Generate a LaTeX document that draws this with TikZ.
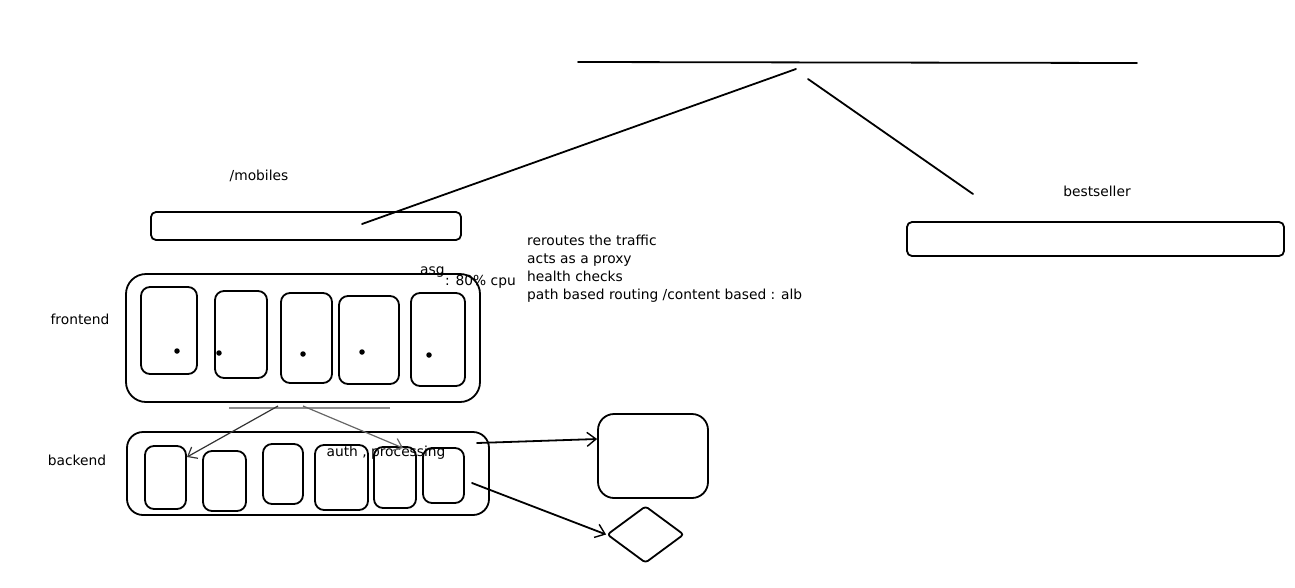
\documentclass[tikz,border=0pt]{standalone}
\usepackage{fontspec}
\setmainfont{DejaVu Sans}
\usetikzlibrary{arrows.meta,shapes.geometric}
\tikzset{
  stroke/.style={line width=1.8pt, line cap=round, line join=round},
  box/.style={stroke, draw, rounded corners=9pt, inner sep=0pt},
  bigbox/.style={stroke, draw, rounded corners=20pt, inner sep=0pt},
  bar/.style={stroke, draw, rounded corners=5pt, inner sep=0pt},
  lbl/.style={font=\fontsize{13.8}{16}\selectfont, inner sep=0pt},
  arr/.style={stroke, -{Straight Barb[length=9pt,width=14pt,line width=1.4pt]}},
  thin/.style={line width=1.2pt, draw=black!80},
  dotm/.style={circle, fill=black, inner sep=0pt, minimum size=5.5pt}
}
\begin{document}
\begin{tikzpicture}[x=1pt,y=-1pt]
\useasboundingbox (0,0) rectangle (1295,587);
% top load balancer line
\coordinate (t1) at (578,62);
\coordinate (t2) at (1137,63);
\draw[stroke] (t1) -- (t2);
\coordinate (ta) at (796,69);
\coordinate (tb) at (808,79);
\coordinate (mb) at (362,224);
\coordinate (bs) at (973,194);
\draw[stroke] (ta) -- (mb);
\draw[stroke] (tb) -- (bs);
% labels
\node[lbl] (lmob) at (259,176) {/mobiles};
\node[lbl] (lbest) at (1097,191) {bestseller};
\node[lbl] (lfront) at (80,319) {frontend};
\node[lbl] (lback) at (77,460) {backend};
% bars
\node[bar, minimum width=310pt, minimum height=28pt] (mobbar) at (306,226) {};
\node[bar, minimum width=377pt, minimum height=34pt] (bestbar) at (1095.5,239) {};
% text block
\node[lbl, anchor=base west] (n1) at (527,245) {reroutes the traffic};
\node[lbl, anchor=base west] (n2) at (527,263) {acts as a proxy};
\node[lbl, anchor=base west] (n3) at (527,281) {health checks};
\node[lbl, anchor=base west] (n4) at (527,299) {path based routing /content based : alb};
\node[lbl, anchor=base west] (asg) at (420,274) {asg};
\node[lbl, anchor=base west] (cpu) at (445,285) {: 80\% cpu};
% frontend
\node[bigbox, minimum width=354pt, minimum height=128pt] (front) at (303,338) {};
\node[box, minimum width=56pt, minimum height=87pt] (f1) at (169,330.5) {};
\node[box, minimum width=52pt, minimum height=87pt] (f2) at (241,334.5) {};
\node[box, minimum width=51pt, minimum height=90pt] (f3) at (306.5,338) {};
\node[box, minimum width=60pt, minimum height=88pt] (f4) at (369,340) {};
\node[box, minimum width=54pt, minimum height=93pt] (f5) at (438,339.5) {};
\node[dotm] (d1) at (177,351) {};
\node[dotm] (d2) at (219,353) {};
\node[dotm] (d3) at (303,354) {};
\node[dotm] (d4) at (362,352) {};
\node[dotm] (d5) at (429,355) {};
% gray line
\coordinate (g1) at (229,408);
\coordinate (g2) at (390,408);
\draw[line width=2.2pt, draw=black!45] (g1) -- (g2);
\coordinate (ga) at (278,406);
\coordinate (gb) at (303,406);
% backend
\node[bigbox, rounded corners=16pt, minimum width=362pt, minimum height=83pt] (back) at (308,473.5) {};
\node[box, minimum width=41pt, minimum height=63pt] (b1) at (165.5,477.5) {};
\node[box, minimum width=43pt, minimum height=60pt] (b2) at (224.5,481) {};
\node[box, minimum width=40pt, minimum height=60pt] (b3) at (283,474) {};
\node[box, minimum width=53pt, minimum height=65pt] (b4) at (341.5,477.5) {};
\node[box, minimum width=42pt, minimum height=61pt] (b5) at (395,477.5) {};
\node[box, minimum width=41pt, minimum height=55pt] (b6) at (443.5,475.5) {};
\node[lbl] (auth) at (386,453) {auth , processing};
\coordinate (ae1) at (187,457);
\coordinate (ae2) at (403,448);
\draw[thin, -{Straight Barb[length=8pt,width=13pt]}] (ga) -- (ae1);
\draw[thin, draw=black!60, -{Straight Barb[length=8pt,width=13pt]}] (gb) -- (ae2);
% right shapes
\node[box, rounded corners=16pt, minimum width=110pt, minimum height=84pt] (rbox) at (653,456) {};
\node[stroke, draw, diamond, inner sep=0pt, minimum width=77pt, minimum height=57pt, rounded corners=3pt] (dia) at (645.5,534.5) {};
\coordinate (s1) at (477,443);
\coordinate (s2) at (472,483);
\draw[arr] (s1) -- (rbox.west |- 0,439);
\draw[arr] (s2) -- (dia.west);
\end{tikzpicture}
\end{document}
